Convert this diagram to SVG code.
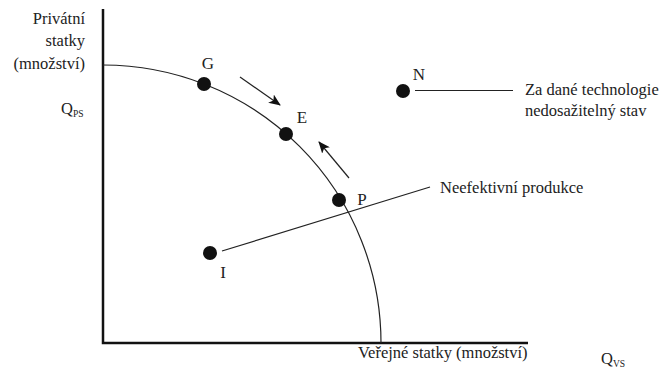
<svg xmlns="http://www.w3.org/2000/svg" width="671" height="371" viewBox="0 0 671 371">
<defs>
<style>
text{font-family:"Liberation Serif","DejaVu Serif",serif;fill:#222;font-size:16.5px}
.lbl{font-size:17px}
.sub{font-size:9.5px}
.ax{stroke:#111;stroke-width:2.5;fill:none}
.ln{stroke:#222;stroke-width:1.2;fill:none}
.dot{fill:#111}
</style>
<marker id="ah" viewBox="0 0 12 10" refX="11" refY="5" markerWidth="12" markerHeight="10" markerUnits="userSpaceOnUse" orient="auto">
<path d="M0,0 L12,5 L0,10 L3,5 Z" fill="#111"/>
</marker>
</defs>
<rect width="671" height="371" fill="#fff"/>
<g id="axes">
<path class="ax" d="M103,9 V343 H528"/>
<text x="85" y="24" text-anchor="end">Privátní</text>
<text x="85" y="46" text-anchor="end">statky</text>
<text x="85" y="69" text-anchor="end">(množství)</text>
<text x="61" y="114">Q<tspan class="sub" dy="3">PS</tspan></text>
<text x="358" y="358">Veřejné statky (množství)</text>
<text x="601" y="364">Q<tspan class="sub" dy="3">VS</tspan></text>
</g>
<g id="curve">
<path class="ln" d="M103,65 A278,278 0 0 1 381,343"/>
</g>
<g id="connectors">
<line class="ln" x1="240" y1="77" x2="280" y2="105" marker-end="url(#ah)"/>
<line class="ln" x1="349" y1="178" x2="319" y2="142" marker-end="url(#ah)"/>
<line class="ln" x1="415" y1="90.5" x2="513" y2="90.5"/>
<line class="ln" x1="222" y1="251" x2="430" y2="187"/>
</g>
<g id="G"><circle class="dot" cx="204" cy="84" r="7"/><text class="lbl" x="208" y="69" text-anchor="middle">G</text></g>
<g id="E"><circle class="dot" cx="286" cy="134" r="7"/><text class="lbl" x="302" y="123" text-anchor="middle">E</text></g>
<g id="P"><circle class="dot" cx="339" cy="200" r="7"/><text class="lbl" x="362" y="205" text-anchor="middle">P</text></g>
<g id="N"><circle class="dot" cx="403" cy="91" r="7"/><text class="lbl" x="419" y="80" text-anchor="middle">N</text></g>
<g id="I"><circle class="dot" cx="210" cy="253" r="7"/><text class="lbl" x="223" y="278" text-anchor="middle">I</text></g>
<g id="labels">
<text x="525" y="95">Za dané technologie</text>
<text x="525" y="116">nedosažitelný stav</text>
<text x="440" y="193">Neefektivní produkce</text>
</g>
</svg>
